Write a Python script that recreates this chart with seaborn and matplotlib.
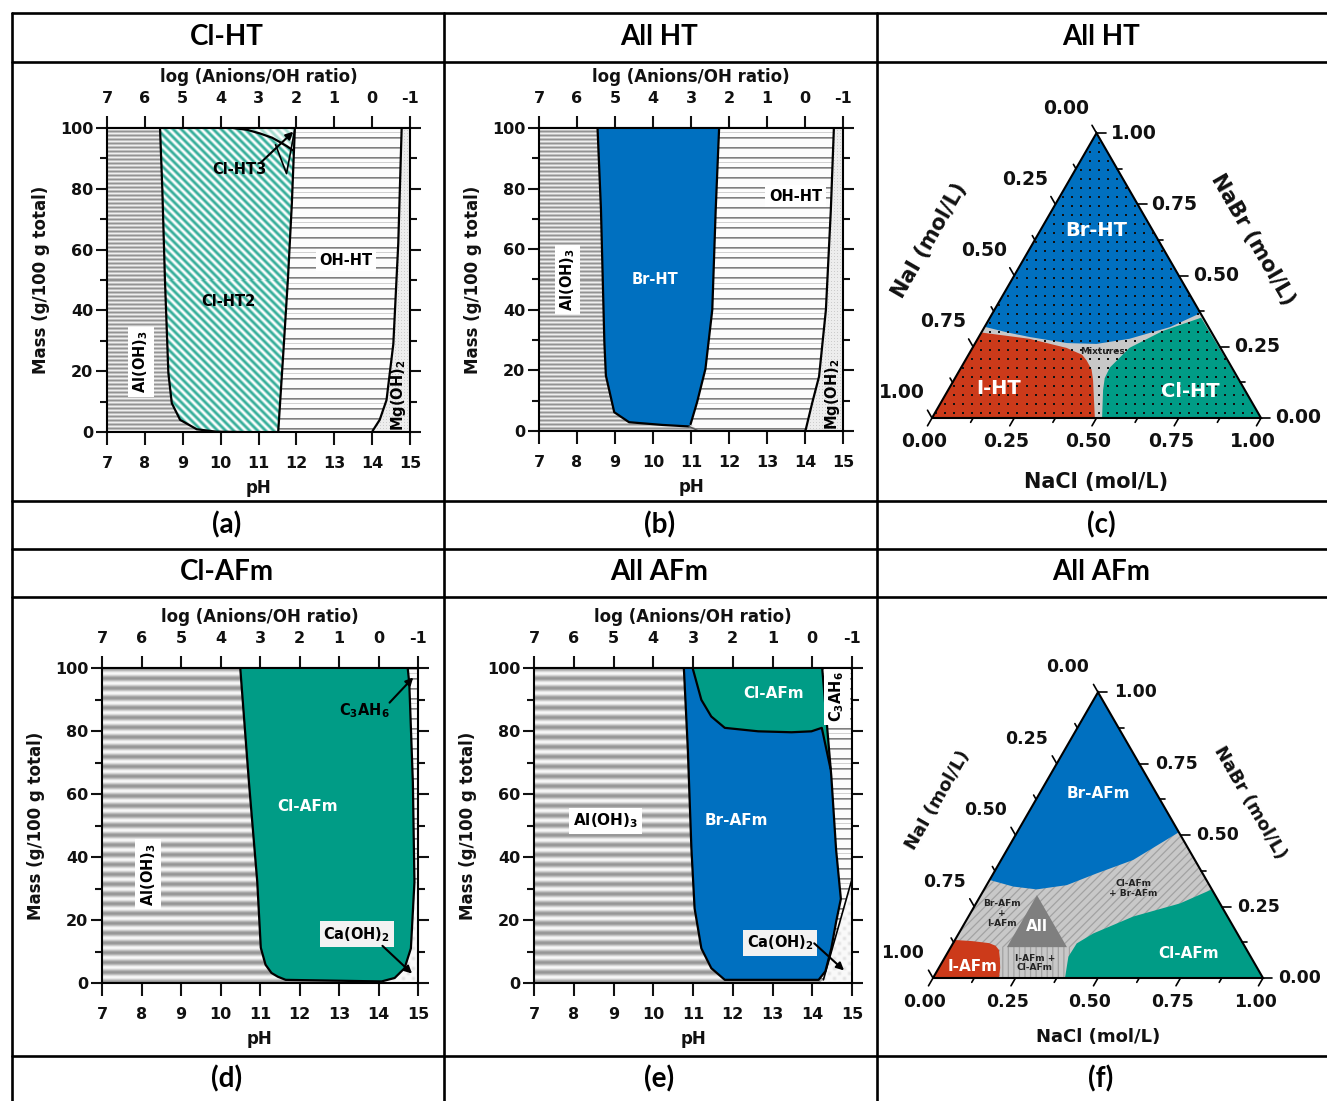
import numpy as np
import matplotlib
matplotlib.use("Agg")
import matplotlib.pyplot as plt
from matplotlib.patches import Polygon
from matplotlib.lines import Line2D
from matplotlib.ticker import MultipleLocator
import seaborn as sns

sns.set_style("ticks")
plt.rcParams["font.family"] = ["DejaVu Sans"]
plt.rcParams["font.weight"] = "bold"
plt.rcParams["axes.unicode_minus"] = False
plt.rcParams["mathtext.fontset"] = "custom"
plt.rcParams["mathtext.rm"] = "DejaVu Sans:bold"
plt.rcParams["mathtext.bf"] = "DejaVu Sans:bold"
plt.rcParams["mathtext.it"] = "DejaVu Sans:bold"
plt.rcParams["hatch.linewidth"] = 0.9

# ---------------------------------------------------------------------------
# Phase boundaries of the pH diagrams (pH at a given cumulative mass, g/100 g)
# ---------------------------------------------------------------------------
# (a) Cl-HT
A_AL_PH = [8.40, 8.46, 8.53, 8.62, 8.71, 8.93, 9.37, 9.89, 10.50]
A_AL_MASS = [100, 80, 50, 19.4, 9.5, 4.0, 0.9, 0.1, 0.0]
A_OH_PH = [11.52, 11.65, 11.78, 11.88, 11.96]
A_OH_MASS = [0, 25, 51, 75, 100]
A_HT3_PH = [10.33, 10.70, 11.04, 11.36, 11.56, 11.75, 11.93]
A_HT3_MASS = [100, 99.4, 98.2, 96.8, 95.4, 94.0, 92.5]
A_MG_PH = [14.00, 14.03, 14.20, 14.38, 14.56, 14.69, 14.78]
A_MG_MASS = [0, 0.7, 4.0, 10.5, 29, 62, 100]

# (b) All HT
B_AL_PH = [8.54, 8.63, 8.72, 8.76, 8.98, 9.37, 10.25, 10.95, 11.20]
B_AL_MASS = [100, 73.3, 29.3, 18.3, 6.2, 2.9, 2.0, 1.5, 0.0]
B_OH_PH = [10.99, 11.16, 11.38, 11.56, 11.65, 11.74]
B_OH_MASS = [2.3, 9.5, 20.5, 40, 73, 100]
B_MG_PH = [14.00, 14.02, 14.19, 14.37, 14.55, 14.68, 14.76]
B_MG_MASS = [0, 0.5, 9.3, 18, 40, 73, 100]

# (d) Cl-AFm
D_AL_PH = [10.50, 10.72, 10.93, 11.02, 11.14, 11.29, 11.45, 11.65, 14.08]
D_AL_MASS = [100, 63.7, 32.2, 11.2, 5.8, 3.2, 2.0, 1.0, 0.5]
D_RT_PH = [14.08, 14.41, 14.66, 14.82, 14.91, 14.87, 14.78, 14.74]
D_RT_MASS = [0.5, 1.6, 4.7, 11, 32, 63.7, 95, 100]
D_SPLIT_MASS = 32

# (e) All AFm
E_AL_PH = [10.77, 10.87, 10.96, 11.04, 11.21, 11.46, 11.80, 14.16]
E_AL_MASS = [100, 74.1, 42.6, 23.7, 11.0, 4.7, 1.0, 1.0]
E_RT_PH = [14.16, 14.33, 14.48, 14.60, 14.72, 14.60, 14.48, 14.38, 14.25]
E_RT_MASS = [1.0, 3.7, 11.0, 19.4, 26.7, 42.3, 65.6, 80.4, 100]
E_CLBR_PH = [10.99, 11.21, 11.46, 11.80, 12.64, 13.48, 13.98, 14.24, 14.46]
E_CLBR_MASS = [100, 89.9, 84.6, 81.0, 79.9, 79.6, 79.9, 81.0, 68.0]
E_CA_PH = [14.28, 15.0]
E_CA_MASS = [1.0, 33.0]

PH_TICKS = [7, 8, 9, 10, 11, 12, 13, 14, 15]
LOG_TICKS = [7, 6, 5, 4, 3, 2, 1, 0, -1]

# ---------------------------------------------------------------------------
# Ternary phase fields (NaCl, NaBr fractions; NaI = 1 - NaCl - NaBr)
# ---------------------------------------------------------------------------
C_BR_NACL = [0.0, 0.080, 0.156, 0.279, 0.370, 0.461, 0.564, 0.632]
C_BR_NABR = [0.32, 0.300, 0.284, 0.263, 0.260, 0.278, 0.319, 0.368]
C_I_NACL = [0.0, 0.157, 0.286, 0.345, 0.369, 0.400, 0.423, 0.495]
C_I_NABR = [0.300, 0.278, 0.246, 0.222, 0.202, 0.170, 0.133, 0.0]
C_CL_NACL = [0.642, 0.548, 0.477, 0.452, 0.455, 0.471, 0.517]
C_CL_NABR = [0.352, 0.305, 0.246, 0.177, 0.140, 0.098, 0.0]

F_BR_NACL = [0.0, 0.083, 0.159, 0.243, 0.313, 0.400, 0.490]
F_BR_NABR = [0.343, 0.320, 0.310, 0.325, 0.366, 0.413, 0.510]
F_CL_NACL = [0.690, 0.618, 0.499, 0.408, 0.375, 0.373, 0.400]
F_CL_NABR = [0.310, 0.261, 0.215, 0.156, 0.121, 0.0745, 0.0]
F_I_NACL = [0.0, 0.055, 0.109, 0.133, 0.151, 0.168, 0.186, 0.200]
F_I_NABR = [0.133, 0.129, 0.122, 0.113, 0.098, 0.069, 0.035, 0.0]
F_ALL_NACL = [0.170, 0.170, 0.352]
F_ALL_NABR = [0.290, 0.108, 0.108]
F_ICL_NACL = [0.203, 0.149, 0.361, 0.415]
F_ICL_NABR = [0.0, 0.1085, 0.1085, 0.0]

# ---------------------------------------------------------------------------
W, H = 1327, 1101
fig = plt.figure(figsize=(W / 100, H / 100), dpi=100)
fig.patch.set_facecolor("white")

BLUE = "#0070c0"
TEAL = "#009c86"
RED = "#cc3a1a"
GRAY = "#c8c8c8"
INK = "#111111"

TICK_FS = 11.5
AXLAB_FS = 12
IN_FS = 10.5


def px_axes(box):
    x0, y0, x1, y1 = box
    return fig.add_axes([x0 / W, 1 - y1 / H, (x1 - x0) / W, (y1 - y0) / H])


def texture(kind, w, h):
    ii, jj = np.mgrid[0:h, 0:w].astype(float)
    white = np.ones((h, w, 3))
    if kind == "al_ht":
        v = 0.76 - 0.18 * np.cos(2 * np.pi * ii / 4.0)
        return np.dstack([v, v, v])
    if kind == "al_afm":
        v = 0.78 - 0.19 * np.cos(2 * np.pi * ii / 9.8)
        return np.dstack([v, v, v])
    if kind in ("teal", "teal_light"):
        col = np.array([0.20, 0.68, 0.60]) if kind == "teal" else np.array([0.64, 0.86, 0.81])
        m = (0.5 + 0.5 * np.cos(2 * np.pi * (jj - ii) / 8.0))[..., None]
        return white * (1 - m) + col * m
    if kind == "lines":
        v = np.full((h, w), 0.99)
        r = ii % 10
        v[r == 0] = 0.50
        v[r == 1] = 0.66
        v[(ii % 30 == 5)] = 0.82
        return np.dstack([v, v, v])
    if kind == "mg":
        v = np.full((h, w), 0.93)
        v[(ii % 3 == 0) & (jj % 3 == 0)] = 0.80
        return np.dstack([v, v, v])
    if kind == "ca":
        s = np.clip(np.cos(2 * np.pi * jj / 10) * np.cos(2 * np.pi * ii / 10), 0, 1)
        v = 0.98 - 0.09 * s
        return np.dstack([v, v, v])
    return white


def fill_texture(ax, kind, pts, box, z=1):
    x0, y0, x1, y1 = box
    w, h = int(round(x1 - x0)), int(round(y1 - y0))
    img = texture(kind, w, h)
    poly = Polygon(pts, closed=True, facecolor="none", edgecolor="none",
                   transform=ax.transData)
    ax.add_patch(poly)
    im = ax.imshow(img, extent=(7, 15, 0, 100), origin="upper", aspect="auto",
                   interpolation="nearest", zorder=z)
    im.set_clip_path(poly)


def pts(ph, mass):
    return list(zip(ph, mass))


def boundary(ax, ph, mass, lw=1.6, color="black"):
    sns.lineplot(x=list(ph), y=list(mass), sort=False, estimator=None,
                 color=color, linewidth=lw, ax=ax, zorder=5)


def setup_ph_axes(ax):
    ax.set_xlim(7, 15)
    ax.set_ylim(0, 100)
    ax.set_xticks(PH_TICKS)
    ax.yaxis.set_major_locator(MultipleLocator(20))
    ax.yaxis.set_minor_locator(MultipleLocator(10))
    ax.tick_params(axis="x", which="major", direction="out", length=9, width=1.5,
                   labelsize=TICK_FS, pad=8, colors=INK)
    ax.tick_params(axis="y", which="major", direction="out", length=8, width=1.5,
                   labelsize=TICK_FS, pad=2, right=True, colors=INK)
    ax.tick_params(axis="y", which="minor", direction="out", length=5, width=1.5,
                   right=True, colors=INK)
    for lab in ax.get_xticklabels() + ax.get_yticklabels():
        lab.set_fontweight("bold")
    for sp in ax.spines.values():
        sp.set_linewidth(1.5)
        sp.set_color("black")
        sp.set_zorder(10)
    ax.set_xlabel("pH", fontsize=AXLAB_FS, fontweight="bold", labelpad=6, color=INK)
    ax.set_ylabel("Mass (g/100 g total)", fontsize=AXLAB_FS, fontweight="bold",
                  labelpad=7, color=INK)
    top = ax.secondary_xaxis("top", functions=(lambda p: 14 - p, lambda r: 14 - r))
    top.set_xticks(LOG_TICKS)
    top.set_xticklabels([str(t) for t in LOG_TICKS], fontweight="bold")
    top.tick_params(direction="out", length=9, width=1.5, labelsize=TICK_FS, pad=7,
                    colors=INK)
    top.spines["top"].set_linewidth(1.5)
    top.set_xlabel("log (Anions/OH ratio)", fontsize=AXLAB_FS, fontweight="bold",
                   labelpad=6, color=INK)


def label(ax, x, y, s, color="black", size=IN_FS, rot=0, box=None, z=8):
    kw = {}
    if box is not None:
        kw["bbox"] = dict(facecolor=box, edgecolor="none", pad=2.5)
    ax.text(x, y, s, color=color, fontsize=size, fontweight="bold", rotation=rot,
            ha="center", va="center", zorder=z, **kw)


def arrow(ax, start, tip):
    ax.annotate("", xy=tip, xytext=start, zorder=9,
                arrowprops=dict(arrowstyle="-|>", color="black", lw=1.5,
                                mutation_scale=11, shrinkA=0, shrinkB=0))


FULL = [(7, 0), (7, 100), (15, 100), (15, 0)]
AL3 = r"Al(OH)$_\mathbf{3}$"
MG2 = r"Mg(OH)$_\mathbf{2}$"
CA2 = r"Ca(OH)$_\mathbf{2}$"
C3AH6 = r"C$_\mathbf{3}$AH$_\mathbf{6}$"

# ---------------------------- (a) Cl-HT -------------------------------------
BOX_A = (107, 128, 410, 432)
ax = px_axes(BOX_A)
fill_texture(ax, "al_ht", FULL, BOX_A, 1)
fill_texture(ax, "teal", pts(A_AL_PH, A_AL_MASS) + pts(A_OH_PH, A_OH_MASS), BOX_A, 2)
fill_texture(ax, "teal_light", pts(A_HT3_PH, A_HT3_MASS) + [(A_OH_PH[-1], 100)], BOX_A, 3)
fill_texture(ax, "lines", pts(A_OH_PH, A_OH_MASS) + pts(A_MG_PH, A_MG_MASS)[::-1], BOX_A, 2)
fill_texture(ax, "mg", pts(A_MG_PH, A_MG_MASS) + [(15, 100), (15, 0)], BOX_A, 2)
boundary(ax, A_AL_PH, A_AL_MASS)
boundary(ax, A_OH_PH, A_OH_MASS)
boundary(ax, A_HT3_PH, A_HT3_MASS)
boundary(ax, A_MG_PH, A_MG_MASS)
setup_ph_axes(ax)
label(ax, 7.9, 23, AL3, rot=90, box="white")
label(ax, 10.2, 43, "Cl-HT2")
label(ax, 10.5, 86.5, "Cl-HT3")
label(ax, 13.3, 56.5, "OH-HT", box="white")
label(ax, 14.7, 12, MG2, rot=90)
arrow(ax, (11.05, 88.5), (11.92, 98.8))
sns.lineplot(x=[11.45, 11.74, 11.95], y=[94.5, 85.0, 99.0], sort=False,
             estimator=None, color="black", linewidth=1.2, ax=ax, zorder=9)
ax.set_xlim(7, 15)
ax.set_ylim(0, 100)

# ---------------------------- (b) All HT ------------------------------------
BOX_B = (539, 128, 843, 431)
ax = px_axes(BOX_B)
fill_texture(ax, "al_ht", FULL, BOX_B, 1)
b_br = pts(B_AL_PH[:-1], B_AL_MASS[:-1]) + pts(B_OH_PH, B_OH_MASS)
ax.fill([p[0] for p in b_br], [p[1] for p in b_br], color=BLUE, lw=0, zorder=2)
fill_texture(ax, "lines", [(B_AL_PH[-1], 0)] + pts(B_OH_PH, B_OH_MASS)
             + pts(B_MG_PH, B_MG_MASS)[::-1], BOX_B, 2)
fill_texture(ax, "mg", pts(B_MG_PH, B_MG_MASS) + [(15, 100), (15, 0)], BOX_B, 2)
boundary(ax, B_AL_PH[:-1], B_AL_MASS[:-1])
boundary(ax, B_AL_PH[-2:], B_AL_MASS[-2:], lw=1.0, color="#555555")
boundary(ax, B_OH_PH, B_OH_MASS)
boundary(ax, B_MG_PH, B_MG_MASS)
setup_ph_axes(ax)
label(ax, 7.75, 50, AL3, rot=90, box="white")
label(ax, 10.05, 50, "Br-HT", color="white")
label(ax, 13.75, 77.5, "OH-HT", box="white")
label(ax, 14.72, 12, MG2, rot=90)
ax.set_xlim(7, 15)
ax.set_ylim(0, 100)

# ---------------------------- (d) Cl-AFm ------------------------------------
BOX_D = (102, 668, 418, 983)
ax = px_axes(BOX_D)
fill_texture(ax, "al_afm", FULL, BOX_D, 1)
d_afm = pts(D_AL_PH, D_AL_MASS) + pts(D_RT_PH, D_RT_MASS)[1:]
ax.fill([p[0] for p in d_afm], [p[1] for p in d_afm], color=TEAL, lw=0, zorder=2)
d_rt = pts(D_RT_PH, D_RT_MASS)
d_up = [p for p in d_rt if p[1] >= D_SPLIT_MASS]
d_lo = [p for p in d_rt if p[1] <= D_SPLIT_MASS]
fill_texture(ax, "lines", d_up + [(15, 100), (15, D_SPLIT_MASS)], BOX_D, 2)
fill_texture(ax, "ca", d_lo + [(15, D_SPLIT_MASS), (15, 0), (D_RT_PH[0], 0)], BOX_D, 2)
boundary(ax, [p[0] for p in d_afm], [p[1] for p in d_afm])
setup_ph_axes(ax)
label(ax, 8.17, 34.5, AL3, rot=90, box="white")
label(ax, 12.2, 56, "Cl-AFm", color="white", size=11)
label(ax, 13.65, 86.5, C3AH6)
arrow(ax, (14.28, 89.0), (14.88, 97.0))
label(ax, 13.45, 15.5, CA2, box="#f2f2f2")
arrow(ax, (14.1, 11.8), (14.85, 3.0))
ax.set_xlim(7, 15)
ax.set_ylim(0, 100)

# ---------------------------- (e) All AFm -----------------------------------
BOX_E = (534, 668, 852, 983)
ax = px_axes(BOX_E)
fill_texture(ax, "al_afm", FULL, BOX_E, 1)
e_afm = pts(E_AL_PH, E_AL_MASS) + pts(E_RT_PH, E_RT_MASS)[1:]
ax.fill([p[0] for p in e_afm], [p[1] for p in e_afm], color=BLUE, lw=0, zorder=2)
e_rt = pts(E_RT_PH, E_RT_MASS)
e_cl = pts(E_CLBR_PH, E_CLBR_MASS) + [p for p in e_rt if p[1] > E_CLBR_MASS[-1] and p[0] < 14.45]
ax.fill([p[0] for p in e_cl], [p[1] for p in e_cl], color=TEAL, lw=0, zorder=3)
e_ca = pts(E_CA_PH, E_CA_MASS)
fill_texture(ax, "lines", e_rt[::-1] + e_ca + [(15, 100)], BOX_E, 2)
fill_texture(ax, "ca", e_ca + [(15, 0), (E_RT_PH[0], 0)], BOX_E, 2)
boundary(ax, [p[0] for p in e_afm], [p[1] for p in e_afm])
boundary(ax, E_CLBR_PH, E_CLBR_MASS)
boundary(ax, E_CA_PH, E_CA_MASS, lw=1.2)
setup_ph_axes(ax)
label(ax, 8.8, 51.5, AL3, box="white", size=11)
label(ax, 12.1, 51.5, "Br-AFm", color="white", size=11)
label(ax, 13.02, 92, "Cl-AFm", color="white", size=11)
label(ax, 14.62, 91, C3AH6, rot=90, box="white")
label(ax, 13.2, 12.8, CA2, box="#f2f2f2")
arrow(ax, (14.05, 12.6), (14.8, 4.0))
ax.set_xlim(7, 15)
ax.set_ylim(0, 100)

# ---------------------------- ternary diagrams ------------------------------
SQ3 = np.sqrt(3) / 2


def tern(nacl, nabr):
    c = np.asarray(nacl, float)
    b = np.asarray(nabr, float)
    return c + b / 2, b * SQ3


def tern_axes(cell, bl, L):
    cx0, cy0, cx1, cy1 = cell
    ax = px_axes(cell)
    ax.set_xlim((cx0 - bl[0]) / L, (cx1 - bl[0]) / L)
    ax.set_ylim((bl[1] - cy1) / L, (bl[1] - cy0) / L)
    ax.axis("off")
    return ax


def tern_fill(ax, nacl, nabr, z=2, **kw):
    x, y = tern(nacl, nabr)
    poly = Polygon(np.column_stack([x, y]), closed=True, zorder=z, **kw)
    ax.add_patch(poly)
    return poly


def tern_frame(ax, L, fs, tfs, title_pos):
    x, y = tern([0, 1, 0, 0], [0, 0, 1, 0])
    ax.plot(x, y, color="black", lw=1.5, zorder=6, solid_joinstyle="miter")
    px = 1.0 / L
    for v in np.arange(0, 1.0001, 0.125):
        major = abs(v / 0.25 - round(v / 0.25)) < 1e-9
        ln = (9 if major else 5) * px
        # NaCl along the base
        bx, by = tern(v, 0)
        ax.plot([bx, bx - 0.5 * ln], [by, by - SQ3 * ln], color="black", lw=1.2, zorder=6)
        # NaBr along the right edge
        rx, ry = tern(1 - v, v)
        ax.plot([rx, rx + ln], [ry, ry], color="black", lw=1.2, zorder=6)
        # NaI along the left edge
        lx, ly = tern(0, 1 - v)
        ax.plot([lx, lx - 0.5 * ln], [ly, ly + SQ3 * ln], color="black", lw=1.2, zorder=6)
        if major:
            t = f"{v:.2f}"
            ax.text(bx - 8 * px, by - 24 * px, t, fontsize=fs, fontweight="bold",
                    ha="center", va="center", color=INK)
            ax.text(rx + 37 * px, ry, t, fontsize=fs, fontweight="bold",
                    ha="center", va="center", color=INK)
            ax.text(lx - 30 * px, ly + 25 * px, t, fontsize=fs, fontweight="bold",
                    ha="center", va="center", color=INK)
    (nx, ny), (ix, iy), (brx, bry) = title_pos
    ax.text(nx, ny, "NaCl (mol/L)", fontsize=tfs, fontweight="bold", ha="center",
            va="center", color=INK)
    ax.text(ix, iy, "NaI (mol/L)", fontsize=tfs, fontweight="bold", ha="center",
            va="center", rotation=60, color=INK)
    ax.text(brx, bry, "NaBr (mol/L)", fontsize=tfs, fontweight="bold", ha="center",
            va="center", rotation=-60, color=INK)


# (c) All HT
L_C = 329
ax = tern_axes((878, 63, 1327, 499), (932, 418), L_C)
tern_fill(ax, [0, 1, 0], [0, 0, 1], z=1, facecolor=GRAY, edgecolor="none")
tern_fill(ax, C_BR_NACL + [0.0], C_BR_NABR + [1.0], facecolor=BLUE, edgecolor="none")
tern_fill(ax, C_I_NACL + [0.0], C_I_NABR + [0.0], facecolor=RED, edgecolor="none")
tern_fill(ax, C_CL_NACL + [1.0], C_CL_NABR + [0.0], facecolor=TEAL, edgecolor="none")
step = 9.0 / L_C
gx, gy = np.meshgrid(np.arange(step / 2, 1, step), np.arange(step / 2, SQ3, step))
gx, gy = gx.ravel(), gy.ravel()
inside = (gy < np.sqrt(3) * gx - 0.01) & (gy < np.sqrt(3) * (1 - gx) - 0.01)
ax.scatter(gx[inside], gy[inside], s=0.8, c="#111111", marker="s", linewidths=0, zorder=4)
tern_frame(ax, L_C, 13.5, 15, ((0.5, -0.194), (-0.006, 0.541), (0.976, 0.541)))
for (tx, ty, s, col, fs) in [
    (0.500, 0.571, "Br-HT", "white", 14),
    (0.202, 0.090, "I-HT", "white", 14),
    (0.784, 0.080, "Cl-HT", "white", 14),
    (0.519, 0.202, "Mixtures", "#222222", 6.5),
]:
    ax.text(tx, ty, s, color=col, fontsize=fs, fontweight="bold", ha="center",
            va="center", zorder=7)

# (f) All AFm
L_F = 330
ax = tern_axes((878, 598, 1327, 1054), (933, 978), L_F)
tern_fill(ax, [0, 1, 0], [0, 0, 1], z=1, facecolor=GRAY, edgecolor="#a2a2a2",
          hatch="////", lw=0)
tern_fill(ax, F_ICL_NACL, F_ICL_NABR, z=2, facecolor=GRAY, edgecolor="#a2a2a2",
          hatch="|||", lw=0)
tern_fill(ax, F_ALL_NACL, F_ALL_NABR, z=3, facecolor="#7f7f7f", edgecolor="none")
tern_fill(ax, F_BR_NACL + [0.0], F_BR_NABR + [1.0], z=3, facecolor=BLUE, edgecolor="none")
tern_fill(ax, F_CL_NACL + [1.0], F_CL_NABR + [0.0], z=3, facecolor=TEAL, edgecolor="none")
tern_fill(ax, F_I_NACL + [0.0], F_I_NABR + [0.0], z=3, facecolor=RED, edgecolor="none")
tern_frame(ax, L_F, 12.5, 13, ((0.5, -0.178), (0.016, 0.539), (0.96, 0.53)))
for (tx, ty, s, col, fs) in [
    (0.501, 0.560, "Br-AFm", "white", 11),
    (0.774, 0.075, "Cl-AFm", "white", 11),
    (0.120, 0.036, "I-AFm", "white", 11),
    (0.314, 0.155, "All", "white", 11),
    (0.607, 0.272, "Cl-AFm\n+ Br-AFm", "#222222", 6.5),
    (0.208, 0.196, "Br-AFm\n+\nI-AFm", "#222222", 6.5),
    (0.309, 0.045, "I-AFm +\nCl-AFm", "#222222", 6.5),
]:
    ax.text(tx, ty, s, color=col, fontsize=fs, fontweight="bold", ha="center",
            va="center", zorder=7, linespacing=1.1)

# ---------------------------- table grid and captions -----------------------
def hline(y, x0=11.5, x1=W):
    fig.add_artist(Line2D([x0 / W, x1 / W], [1 - y / H, 1 - y / H], color="black",
                          lw=1.9, transform=fig.transFigure))


def vline(x, y0=13, y1=H):
    fig.add_artist(Line2D([x / W, x / W], [1 - y0 / H, 1 - y1 / H], color="black",
                          lw=1.9, transform=fig.transFigure))


for y in (13, 61.5, 500.5, 548.5, 596.5, 1055.5):
    hline(y)
for x in (11.5, 443.5, 876.5):
    vline(x)

HEAD = dict(fontsize=20, fontweight="bold", family=["Lato", "DejaVu Sans"],
            ha="center", va="center", color="black")
for x, s in [(227, "Cl-HT"), (659.5, "All HT"), (1101, "All HT")]:
    fig.text(x / W, 1 - 37 / H, s, **HEAD)
for x, s in [(227, "(a)"), (659.5, "(b)"), (1101, "(c)")]:
    fig.text(x / W, 1 - 524.5 / H, s, **HEAD)
for x, s in [(227, "Cl-AFm"), (659.5, "All AFm"), (1101, "All AFm")]:
    fig.text(x / W, 1 - 572.5 / H, s, **HEAD)
for x, s in [(227, "(d)"), (659.5, "(e)"), (1101, "(f)")]:
    fig.text(x / W, 1 - 1078.5 / H, s, **HEAD)

fig.savefig("out.png", dpi=100, facecolor="white")
